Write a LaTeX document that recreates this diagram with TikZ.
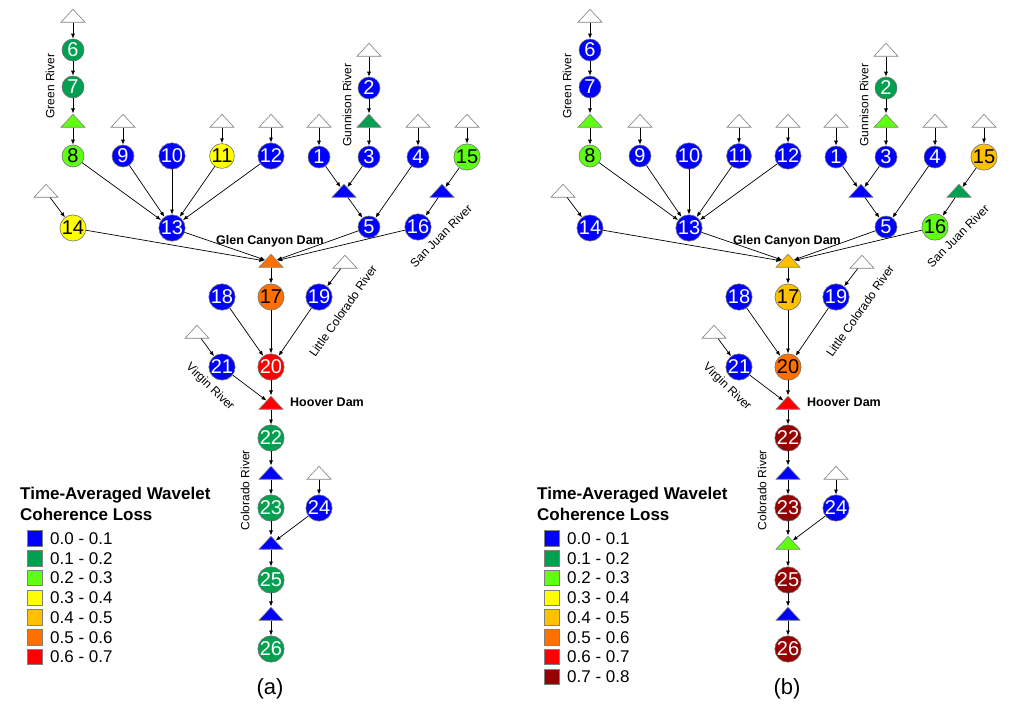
\documentclass[tikz,border=0pt]{standalone}
\usepackage{fontspec}
\setmainfont{Liberation Sans}
\usetikzlibrary{shapes.geometric,arrows.meta}
\definecolor{cB}{RGB}{0,0,255}
\definecolor{cG}{RGB}{0,160,80}
\definecolor{cL}{RGB}{95,255,20}
\definecolor{cY}{RGB}{255,255,0}
\definecolor{cO}{RGB}{255,192,0}
\definecolor{cN}{RGB}{255,112,0}
\definecolor{cR}{RGB}{255,0,0}
\definecolor{cD}{RGB}{150,0,0}
\tikzset{
  site/.style={circle,draw=black!55,line width=0.6pt,minimum size=22pt,inner sep=0pt,
    font=\fontsize{20}{20}\selectfont},
  tri/.style={isosceles triangle,isosceles triangle stretches,shape border rotate=90,
    minimum width=24pt,minimum height=13pt,inner sep=0pt,line width=0.6pt,draw=black!50},
  src/.style={tri,fill=white},
  k1/.style={fill=cB,text=white},
  k2/.style={fill=cG,text=white},
  k3/.style={fill=cL,text=black},
  k4/.style={fill=cY,text=black},
  k5/.style={fill=cO,text=black},
  k6/.style={fill=cN,text=black},
  k7/.style={fill=cR,text=white},
  k8/.style={fill=cD,text=white},
  flow/.style={-{Latex[length=5pt,width=4pt]},line width=0.7pt},
  river/.style={font=\fontsize{12}{12}\selectfont},
  dam/.style={font=\bfseries\fontsize{12.5}{12.5}\selectfont},
  lsq/.style={rectangle,draw=black!50,line width=0.6pt,minimum size=15.5pt,inner sep=0pt},
  ltxt/.style={anchor=west,inner sep=0pt,font=\fontsize{17}{17}\selectfont},
  ltitle/.style={anchor=base west,inner sep=0pt,font=\bfseries\fontsize{17}{17}\selectfont},
  panelcap/.style={font=\fontsize{22}{22}\selectfont},
  % panel a
  a-6/.style={k2}, a-7/.style={k2}, a-g1/.style={k3}, a-8/.style={k3}, a-9/.style={k1},
  a-10/.style={k1}, a-11/.style={k4}, a-12/.style={k1}, a-1/.style={k1}, a-2/.style={k1},
  a-g2/.style={k2}, a-3/.style={k1}, a-4/.style={k1}, a-15/.style={k3}, a-m1/.style={k1},
  a-m2/.style={k1}, a-5/.style={k1}, a-16/.style={k1}, a-13/.style={k1}, a-14/.style={k4},
  a-glen/.style={k6}, a-17/.style={k6}, a-18/.style={k1}, a-19/.style={k1}, a-20/.style={k7},
  a-21/.style={k1}, a-hoov/.style={k7}, a-22/.style={k2}, a-d1/.style={k1}, a-23/.style={k2},
  a-24/.style={k1}, a-d2/.style={k1}, a-25/.style={k2}, a-d3/.style={k1}, a-26/.style={k2},
  % panel b
  b-6/.style={k1}, b-7/.style={k1}, b-g1/.style={k3}, b-8/.style={k3}, b-9/.style={k1},
  b-10/.style={k1}, b-11/.style={k1}, b-12/.style={k1}, b-1/.style={k1}, b-2/.style={k2},
  b-g2/.style={k3}, b-3/.style={k1}, b-4/.style={k1}, b-15/.style={k5}, b-m1/.style={k1},
  b-m2/.style={k2}, b-5/.style={k1}, b-16/.style={k3}, b-13/.style={k1}, b-14/.style={k1},
  b-glen/.style={k5}, b-17/.style={k5}, b-18/.style={k1}, b-19/.style={k1}, b-20/.style={k6},
  b-21/.style={k1}, b-hoov/.style={k7}, b-22/.style={k8}, b-d1/.style={k1}, b-23/.style={k8},
  b-24/.style={k1}, b-d2/.style={k3}, b-25/.style={k8}, b-d3/.style={k1}, b-26/.style={k8},
}
\newcommand\rpanel[3]{%
\begin{scope}[xshift=#2pt]
  \node[src] (#1w6) at (73,17) {};
  \node[site,#1-6] (#1n6) at (73,50) {6};
  \node[site,#1-7] (#1n7) at (73,87) {7};
  \node[tri,#1-g1] (#1g1) at (73,122) {};
  \node[site,#1-8] (#1n8) at (73,156) {8};
  \node[src] (#1w9) at (123,122) {};
  \node[site,#1-9] (#1n9) at (123,156) {9};
  \node[site,#1-10] (#1n10) at (172,156) {10};
  \node[src] (#1w11) at (222,122) {};
  \node[site,#1-11] (#1n11) at (222,156) {11};
  \node[src] (#1w12) at (271,122) {};
  \node[site,#1-12] (#1n12) at (271,156) {12};
  \node[src] (#1w1) at (319,122) {};
  \node[site,#1-1] (#1n1) at (319,157) {1};
  \node[src] (#1w2) at (369,51) {};
  \node[site,#1-2] (#1n2) at (369,88) {2};
  \node[tri,#1-g2] (#1g2) at (369,122) {};
  \node[site,#1-3] (#1n3) at (369,157) {3};
  \node[src] (#1w4) at (418,122) {};
  \node[site,#1-4] (#1n4) at (418,157) {4};
  \node[src] (#1w15) at (467,122) {};
  \node[site,#1-15] (#1n15) at (467,157) {15};
  \node[tri,#1-m1] (#1m1) at (344,192) {};
  \node[tri,#1-m2] (#1m2) at (442,192) {};
  \node[site,#1-5] (#1n5) at (369,227) {5};
  \node[site,#1-16] (#1n16) at (418,227) {16};
  \node[site,#1-13] (#1n13) at (172,228) {13};
  \node[src] (#1w14) at (46,192) {};
  \node[site,#1-14] (#1n14) at (73,228) {14};
  \node[tri,#1-glen] (#1glen) at (271,262) {};
  \node[site,#1-17] (#1n17) at (271,297) {17};
  \node[site,#1-18] (#1n18) at (222,297) {18};
  \node[src] (#1w19) at (345,263) {};
  \node[site,#1-19] (#1n19) at (319,297) {19};
  \node[site,#1-20] (#1n20) at (271,367) {20};
  \node[src] (#1w21) at (197,333) {};
  \node[site,#1-21] (#1n21) at (222,367) {21};
  \node[tri,#1-hoov] (#1hoov) at (271,404) {};
  \node[site,#1-22] (#1n22) at (271,438) {22};
  \node[tri,#1-d1] (#1d1) at (271,474) {};
  \node[site,#1-23] (#1n23) at (271,508) {23};
  \node[src] (#1w24) at (319,474) {};
  \node[site,#1-24] (#1n24) at (319,508) {24};
  \node[tri,#1-d2] (#1d2) at (271,544) {};
  \node[site,#1-25] (#1n25) at (271,580) {25};
  \node[tri,#1-d3] (#1d3) at (271,615) {};
  \node[site,#1-26] (#1n26) at (271,649) {26};
  % labels
  \node[river,rotate=90] (#1lgreen) at (50,86) {Green River};
  \node[river,rotate=90] (#1lgun) at (347,105) {Gunnison River};
  \node[river,rotate=45] (#1lsj) at (441,236) {San Juan River};
  \node[river,rotate=55] (#1llc) at (343,311) {Little Colorado River};
  \node[river,rotate=-44] (#1lvir) at (210,387) {Virgin River};
  \node[river,rotate=90] (#1lcol) at (245,490) {Colorado River};
  \node[dam] (#1lglen) at (270,241) {Glen Canyon Dam};
  \node[dam,anchor=west,inner sep=0pt] (#1lhoov) at (290,402) {Hoover Dam};
  \node[panelcap] (#1cap) at (270,689) {(#1)};
  % connectors
  \draw[flow] (#1w6) -- (#1n6);
  \draw[flow] (#1n6) -- (#1n7);
  \draw[flow] (#1n7) -- (#1g1);
  \draw[flow] (#1g1) -- (#1n8);
  \draw[flow] (#1w9) -- (#1n9);
  \draw[flow] (#1w11) -- (#1n11);
  \draw[flow] (#1w12) -- (#1n12);
  \draw[flow] (#1w1) -- (#1n1);
  \draw[flow] (#1w2) -- (#1n2);
  \draw[flow] (#1n2) -- (#1g2);
  \draw[flow] (#1g2) -- (#1n3);
  \draw[flow] (#1w4) -- (#1n4);
  \draw[flow] (#1w15) -- (#1n15);
  \draw[flow] (#1n1) -- (#1m1);
  \draw[flow] (#1n3) -- (#1m1);
  \draw[flow] (#1m1) -- (#1n5);
  \draw[flow] (#1n4) -- (#1n5);
  \draw[flow] (#1n15) -- (#1m2);
  \draw[flow] (#1m2) -- (#1n16);
  \draw[flow] (#1n8) -- (#1n13);
  \draw[flow] (#1n9) -- (#1n13);
  \draw[flow] (#1n10) -- (#1n13);
  \draw[flow] (#1n11) -- (#1n13);
  \draw[flow] (#1n12) -- (#1n13);
  \draw[flow] (#1w14) -- (#1n14);
  \draw[flow] (#1n14) -- (#1glen);
  \draw[flow] (#1n13) -- (#1glen);
  \draw[flow] (#1n5) -- (#1glen);
  \draw[flow] (#1n16) -- (#1glen);
  \draw[flow] (#1glen) -- (#1n17);
  \draw[flow] (#1w19) -- (#1n19);
  \draw[flow] (#1n18) -- (#1n20);
  \draw[flow] (#1n17) -- (#1n20);
  \draw[flow] (#1n19) -- (#1n20);
  \draw[flow] (#1w21) -- (#1n21);
  \draw[flow] (#1n21) -- (#1hoov);
  \draw[flow] (#1n20) -- (#1hoov);
  \draw[flow] (#1hoov) -- (#1n22);
  \draw[flow] (#1n22) -- (#1d1);
  \draw[flow] (#1d1) -- (#1n23);
  \draw[flow] (#1w24) -- (#1n24);
  \draw[flow] (#1n23) -- (#1d2);
  \draw[flow] (#1n24) -- (#1d2);
  \draw[flow] (#1d2) -- (#1n25);
  \draw[flow] (#1n25) -- (#1d3);
  \draw[flow] (#1d3) -- (#1n26);
  % legend
  \node[ltitle] (#1t1) at (20,499.5) {Time-Averaged Wavelet};
  \node[ltitle] (#1t2) at (20,520) {Coherence Loss};
  \foreach \c/\t [count=\i from 0] in {#3} {
    \node[lsq,fill=\c] (#1sq\i) at (35,538.5+19.75*\i) {};
    \node[ltxt] (#1lt\i) at (50,538.5+19.75*\i) {\t};
  }
\end{scope}}
\begin{document}
\begin{tikzpicture}[x=1pt,y=-1pt]
\useasboundingbox[fill=white] (0,0) rectangle (1023,707);
\rpanel{a}{0}{cB/0.0 - 0.1,cG/0.1 - 0.2,cL/0.2 - 0.3,cY/0.3 - 0.4,cO/0.4 - 0.5,cN/0.5 - 0.6,cR/0.6 - 0.7}
\rpanel{b}{517}{cB/0.0 - 0.1,cG/0.1 - 0.2,cL/0.2 - 0.3,cY/0.3 - 0.4,cO/0.4 - 0.5,cN/0.5 - 0.6,cR/0.6 - 0.7,cD/0.7 - 0.8}
\end{tikzpicture}
\end{document}
